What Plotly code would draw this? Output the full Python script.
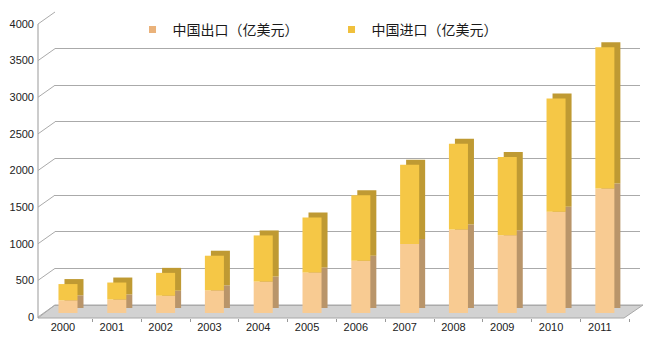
import plotly.graph_objects as go

# ---- data (亿美元) ----
years = ["2000", "2001", "2002", "2003", "2004", "2005",
         "2006", "2007", "2008", "2009", "2010", "2011"]
exports = [173, 184, 236, 309, 429, 554, 713, 941, 1141, 1063, 1382, 1701]
imports = [222, 232, 312, 473, 630, 750, 895, 1084, 1170, 1067, 1546, 1928]
y_ticks = [0, 500, 1000, 1500, 2000, 2500, 3000, 3500, 4000]
names = ["中国出口（亿美元）", "中国进口（亿美元）"]

W, H = 650, 345
L, R, T, B = 55, 10, 12, 27
plot_h = H - T - B           # 306 px
plot_w = W - L - R
bottom_px = H - B            # 318
wall_zero_px = 305           # back wall zero level
px_per_unit = (wall_zero_px - T) / 4000.0

def axis_range(zero_px):
    lo = -(bottom_px - zero_px) / px_per_unit
    return [lo, lo + plot_h / px_per_unit]

def to_paper_y(py):
    return (bottom_px - py) / plot_h

def to_paper_x(px):
    return (px - L) / plot_w

c_exp_front = "#f8cb92"
c_exp_side = "#b9956a"
c_imp_front = "#f5c746"
c_imp_side = "#bf9a33"

bar_w = 0.39
depth_x = 0.123

fig = go.Figure()

# back (extrusion) faces
fig.add_trace(go.Bar(x=years, y=exports, base=[0] * len(years), width=bar_w,
                     offset=-bar_w / 2 + depth_x, marker_color=c_exp_side,
                     marker_line_width=0, yaxis="y2", showlegend=False,
                     hoverinfo="skip"))
fig.add_trace(go.Bar(x=years, y=imports, base=exports, width=bar_w,
                     offset=-bar_w / 2 + depth_x, marker_color=c_imp_side,
                     marker_line_width=0, yaxis="y2", showlegend=False,
                     hoverinfo="skip"))
# front faces
fig.add_trace(go.Bar(x=years, y=exports, base=[0] * len(years), width=bar_w,
                     offset=-bar_w / 2, marker_color=c_exp_front,
                     marker_line_width=0, yaxis="y3", name=names[0],
                     showlegend=False))
fig.add_trace(go.Bar(x=years, y=imports, base=exports, width=bar_w,
                     offset=-bar_w / 2, marker_color=c_imp_front,
                     marker_line_width=0, yaxis="y3", name=names[1],
                     showlegend=False))

# legend entries
for nm, col in zip(names, ["#eab27a", "#f0c03c"]):
    fig.add_trace(go.Scatter(x=[None], y=[None], mode="markers", name=nm,
                             marker=dict(symbol="square", size=7, color=col)))

# decorations: floor, front axis, connectors
shapes = []
fx_left = to_paper_x(38)
shapes.append(dict(type="path", xref="paper", yref="paper", layer="below",
                   path=f"M {fx_left},0 L {to_paper_x(624)},0 "
                        f"L {to_paper_x(643)},{to_paper_y(wall_zero_px)} "
                        f"L 0,{to_paper_y(wall_zero_px)} Z",
                   fillcolor="#d2d2d2", line=dict(color="#a8a8a8", width=1)))
shapes.append(dict(type="line", xref="paper", yref="paper", layer="below",
                   x0=fx_left, x1=fx_left, y0=0, y1=to_paper_y(24),
                   line=dict(color="#999999", width=1)))
for v in y_ticks:
    yb_px = wall_zero_px - v * px_per_unit
    shapes.append(dict(type="line", xref="paper", yref="paper", layer="below",
                       x0=fx_left, x1=0, y0=to_paper_y(yb_px + 12),
                       y1=to_paper_y(yb_px),
                       line=dict(color="#aaaaaa", width=1)))

fig.update_layout(
    width=W, height=H,
    margin=dict(l=L, r=R, t=T, b=B, autoexpand=False),
    paper_bgcolor="white", plot_bgcolor="white",
    barmode="overlay",
    font=dict(family="Liberation Sans, Arial", size=11, color="#222222"),
    shapes=shapes,
    xaxis=dict(type="category", range=[-0.266, 11.72], showgrid=False,
               showline=False, ticks="outside", tickson="boundaries",
               ticklen=3, tickcolor="#999999", ticklabelshift=-5,
               ticklabelstandoff=1, tickfont=dict(size=11), fixedrange=True,
               automargin=False),
    yaxis=dict(range=axis_range(wall_zero_px), tickvals=y_ticks, showgrid=True,
               gridcolor="#aaaaaa", gridwidth=1, zeroline=False,
               showline=False, ticks="", ticklabelshift=12,
               ticklabelstandoff=20, tickfont=dict(size=11), automargin=False),
    yaxis2=dict(range=axis_range(308), overlaying="y", visible=False),
    yaxis3=dict(range=axis_range(313), overlaying="y", visible=False),
    legend=dict(orientation="h", x=0.1325, xanchor="left",
                y=to_paper_y(30), yanchor="middle",
                bgcolor="rgba(255,255,255,0)",
                font=dict(family="Noto Sans CJK SC", size=14, color="#1a1a1a"),
                entrywidth=154, itemwidth=30),
)

fig.write_html("out.html")
